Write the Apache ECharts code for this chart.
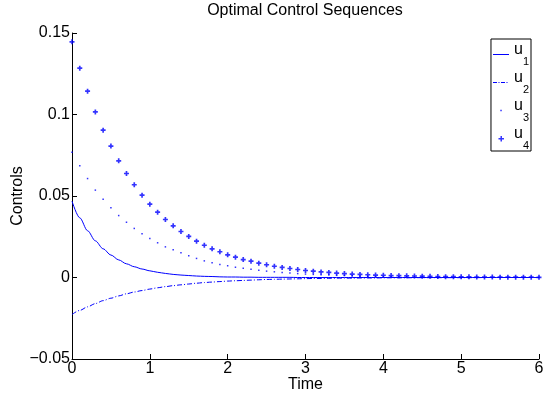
<!DOCTYPE html>
<html>
<head>
<meta charset="utf-8">
<script src="https://cdn.jsdelivr.net/npm/echarts@6/dist/echarts.min.js"></script>
<style>html,body{margin:0;padding:0;background:#fff}#c{width:544px;height:396px}</style>
</head>
<body>
<div id="c"></div>
<script>
const times = [0,0.1,0.2,0.3,0.4,0.5,0.6,0.7,0.8,0.9,1,1.1,1.2,1.3,1.4,1.5,1.6,1.7,1.8,1.9,2,2.1,2.2,2.3,2.4,2.5,2.6,2.7,2.8,2.9,3,3.1,3.2,3.3,3.4,3.5,3.6,3.7,3.8,3.9,4,4.1,4.2,4.3,4.4,4.5,4.6,4.7,4.8,4.9,5,5.1,5.2,5.3,5.4,5.5,5.6,5.7,5.8,5.9,6];
const u1 = [0.0468,0.0366,0.0287,0.0225,0.0176,0.0138,0.0108,0.0084,0.0066,0.0052,
0.0041,0.0032,0.0025,0.0019,0.0015,0.0012,0.0009,0.0007,0.0006,0.0004,
0.0003,0.0003,0.0002,0.0002,0.0001,0.0001,0.0001,0.0001,0.0001,0,
0,0,0,0,0,0,0,0,0,0,
0,0,0,0,0,0,0,0,0,0,
0,0,0,0,0,0,0,0,0,0,0];
const u2 = [-0.0227,-0.0202,-0.0180,-0.0160,-0.0142,-0.0127,-0.0113,-0.0100,-0.0089,-0.0080,
-0.0071,-0.0063,-0.0056,-0.0050,-0.0045,-0.0040,-0.0035,-0.0031,-0.0028,-0.0025,
-0.0022,-0.0020,-0.0018,-0.0016,-0.0014,-0.0012,-0.0011,-0.0010,-0.0009,-0.0008,
-0.0007,-0.0006,-0.0006,-0.0005,-0.0004,-0.0004,-0.0004,-0.0003,-0.0003,-0.0003,
-0.0002,-0.0002,-0.0002,-0.0002,-0.0001,-0.0001,-0.0001,-0.0001,-0.0001,-0.0001,
-0.0001,-0.0001,-0.0001,0,0,0,0,0,0,0,0];
const u3 = [0.0769,0.0685,0.0607,0.0536,0.0480,0.0428,0.0380,0.0339,0.0301,0.0268,
0.0239,0.0213,0.0188,0.0170,0.0152,0.0133,0.0117,0.0102,0.0090,0.0080,
0.0072,0.0063,0.0056,0.0050,0.0044,0.0039,0.0035,0.0031,0.0027,0.0024,
0.0021,0.0019,0.0017,0.0015,0.0013,0.0012,0.0010,0.0009,0.0008,0.0007,
0.0006,0.0006,0.0005,0.0005,0.0004,0.0004,0.0003,0.0003,0.0003,0.0002,
0.0002,0.0002,0.0002,0.0001,0.0001,0.0001,0.0001,0.0001,0.0001,0.0001,0.0001];
const u4 = [0.1446,0.1284,0.1143,0.1016,0.0904,0.0806,0.0716,0.0638,0.0569,0.0505,
0.0450,0.0401,0.0356,0.0317,0.0282,0.0252,0.0223,0.0198,0.0176,0.0158,
0.0139,0.0125,0.0110,0.0100,0.0088,0.0078,0.0069,0.0062,0.0055,0.0049,
0.0043,0.0039,0.0034,0.0031,0.0027,0.0024,0.0021,0.0019,0.0017,0.0015,
0.0014,0.0012,0.0011,0.0010,0.0009,0.0008,0.0007,0.0006,0.0005,0.0005,
0.0004,0.0004,0.0003,0.0003,0.0003,0.0002,0.0002,0.0002,0.0002,0.0002,0.0001];
const seriesNames = ['u1','u2','u3','u4'];
const xTickLabels = ['0','1','2','3','4','5','6'];
const yTickLabels = ['\u22120.05','0','0.05','0.1','0.15'];
const titleText = 'Optimal Control Sequences';
const xName = 'Time';
const yName = 'Controls';

const FONT = '"Liberation Sans", Arial, Helvetica, sans-serif';
const BLUE = '#0000ff';
const pair = arr => times.map((t, i) => [t, arr[i]]);
const plusPath = 'M2,0H4V2H6V4H4V6H2V4H0V2H2Z';
const BOX = 'M0,0M16,10';

const chart = echarts.init(document.getElementById('c'), null, {renderer: 'canvas'});
chart.setOption({
  animation: false,
  backgroundColor: '#fff',
  textStyle: {fontFamily: FONT},
  title: {
    text: titleText, left: 305, top: 3, textAlign: 'center', padding: 0,
    textStyle: {fontFamily: FONT, fontSize: 16, fontWeight: 'normal', color: '#000'}
  },
  grid: {left: 72, right: 5, top: 33, bottom: 37, containLabel: false, outerBoundsMode: 'none'},
  legend: {
    orient: 'vertical', right: 13, top: 39, padding: [0, 2, 0, 2],
    itemGap: 0, itemWidth: 16, itemHeight: 10,
    borderColor: '#000', borderWidth: 1, backgroundColor: '#fff',
    selectedMode: false,
    data: [
      {name: 'u1', icon: 'path://' + BOX + 'M0,4.5H16V5.5H0Z'},
      {name: 'u2', icon: 'path://' + BOX + 'M0,4.5h4v1h-4zM5.5,4.5h1v1h-1zM8,4.5h4v1h-4zM13.5,4.5h1v1h-1z'},
      {name: 'u3', icon: 'path://' + BOX + 'M7.3,4.3h1.5v1.5h-1.5z'},
      {name: 'u4', icon: 'path://' + BOX + 'M7.5,2.5h1.5v2h2v1.5h-2v2h-1.5v-2h-2v-1.5h2z'}
    ],
    formatter: n => '{u|' + n.charAt(0) + '}{s|' + n.slice(1) + '}',
    textStyle: {
      color: '#000', fontFamily: FONT,
      rich: {
        u: {fontSize: 16, lineHeight: 25, verticalAlign: 'top', fontFamily: FONT, color: '#000'},
        s: {fontSize: 11, lineHeight: 12, padding: [17, 0, 0, 0], verticalAlign: 'bottom', fontFamily: FONT, color: '#000'}
      }
    }
  },
  xAxis: {
    type: 'value', min: 0, max: 6, interval: 1,
    name: xName, nameLocation: 'middle', nameGap: 18, nameMoveOverlap: false,
    nameTextStyle: {fontSize: 16, color: '#000', fontFamily: FONT},
    axisLine: {show: true, onZero: false, lineStyle: {color: '#000', width: 1}},
    axisTick: {show: true, inside: true, length: 5, lineStyle: {color: '#000'}},
    axisLabel: {show: true, margin: 2, fontSize: 16, color: '#000', fontFamily: FONT,
      formatter: v => xTickLabels[Math.round(v)]},
    splitLine: {show: false}
  },
  yAxis: {
    type: 'value', min: -0.05, max: 0.15, interval: 0.05,
    name: yName, nameLocation: 'middle', nameRotate: 90, nameGap: 46, nameMoveOverlap: false,
    nameTextStyle: {fontSize: 16, color: '#000', fontFamily: FONT},
    axisLine: {show: true, onZero: false, lineStyle: {color: '#000', width: 1}},
    axisTick: {show: true, inside: true, length: 5, lineStyle: {color: '#000'}},
    axisLabel: {show: true, margin: 2, fontSize: 16, color: '#000', fontFamily: FONT,
      formatter: v => yTickLabels[Math.round((v + 0.05) / 0.05)]},
    splitLine: {show: false}
  },
  series: [
    {name: seriesNames[0], type: 'line', data: pair(u1), symbol: 'none', smooth: 0.3, smoothMonotone: 'x',
      lineStyle: {color: BLUE, width: 1}, itemStyle: {color: BLUE}},
    {name: seriesNames[1], type: 'line', data: pair(u2), symbol: 'none', smooth: 0.3, smoothMonotone: 'x',
      lineStyle: {color: BLUE, width: 1, type: [5, 2, 1, 2]}, itemStyle: {color: BLUE}},
    {name: seriesNames[2], type: 'scatter', data: pair(u3), symbol: 'rect', symbolSize: 1.5,
      itemStyle: {color: BLUE}},
    {name: seriesNames[3], type: 'scatter', data: pair(u4), symbol: 'path://' + plusPath, symbolSize: 5,
      itemStyle: {color: BLUE}}
  ]
});
</script>
</body>
</html>
